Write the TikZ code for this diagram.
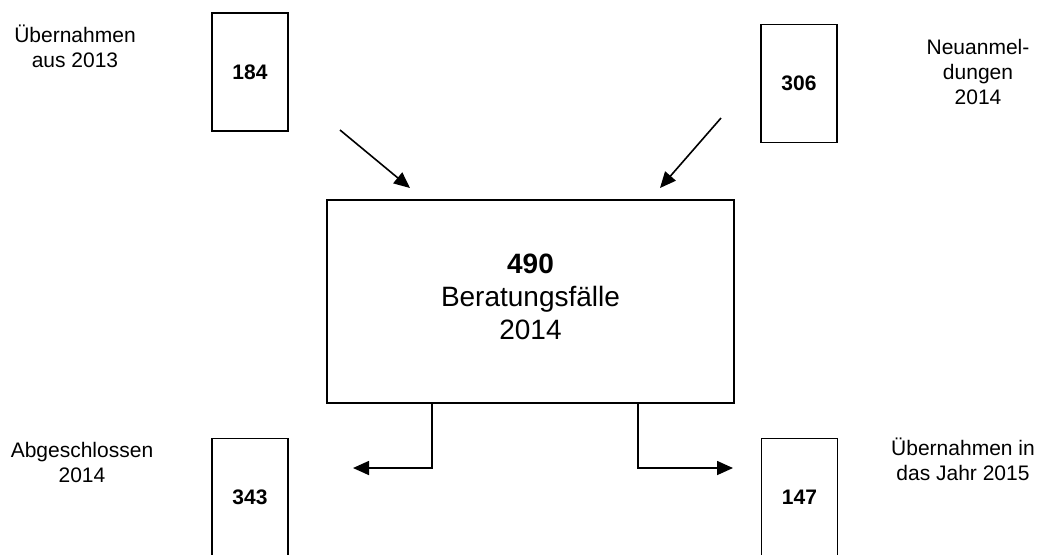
\documentclass[tikz,border=0pt]{standalone}
\usepackage{fontspec}
\setmainfont{Liberation Sans}
\usetikzlibrary{arrows.meta}
\begin{document}
\begin{tikzpicture}[x=0.5pt,y=-0.5pt,
  numbox/.style={draw,line width=0.8pt,minimum width=38pt,minimum height=59pt,inner sep=0pt,
    font=\fontsize{10.5}{12.5}\selectfont\bfseries},
  bigbox/.style={draw,line width=0.8pt,minimum width=203.5pt,minimum height=101.5pt,inner sep=0pt,
    align=center,font=\fontsize{14}{16.5}\selectfont},
  lbl/.style={align=center,inner sep=0pt,font=\fontsize{10.5}{12.5}\selectfont},
  arr/.style={line width=0.8pt,-{Triangle[length=8pt,width=7pt]}}]
\useasboundingbox (0,0) rectangle (1043,554);
% number boxes
\node[numbox] (b184) at (250,72) {184};
\node[numbox] (b306) at (799,83.5) {306};
\node[numbox] (b343) at (250,497.5) {343};
\node[numbox] (b147) at (799.5,497.5) {147};
% main box
\node[bigbox] (big) at (530.5,301.5) {};
\node[align=center,inner sep=0pt,font=\fontsize{14}{16.5}\selectfont] (bigtxt) at (530.5,297)
  {\textbf{490}\\Beratungsfälle\\2014};
% labels
\node[lbl] (l184) at (75,46) {Übernahmen\\aus 2013};
\node[lbl] (l306) at (978,72) {Neuanmel-\\dungen\\2014};
\node[lbl] (l343) at (82,462) {Abgeschlossen\\2014};
\node[lbl] (l147) at (963,459) {Übernahmen in\\das Jahr 2015};
% top arrows
\coordinate (s1) at (340,130);
\coordinate (t1) at (410,188);
\coordinate (s2) at (721,118);
\coordinate (t2) at (660,188);
\draw[arr] (s1) -- (t1);
\draw[arr] (s2) -- (t2);
% bottom connectors
\coordinate (d1) at (432,468);
\coordinate (e1) at (353,468);
\coordinate (d2) at (638,468);
\coordinate (e2) at (733,468);
\draw[arr] (big.south -| d1) -- (d1) -- (e1);
\draw[arr] (big.south -| d2) -- (d2) -- (e2);
\end{tikzpicture}
\end{document}
